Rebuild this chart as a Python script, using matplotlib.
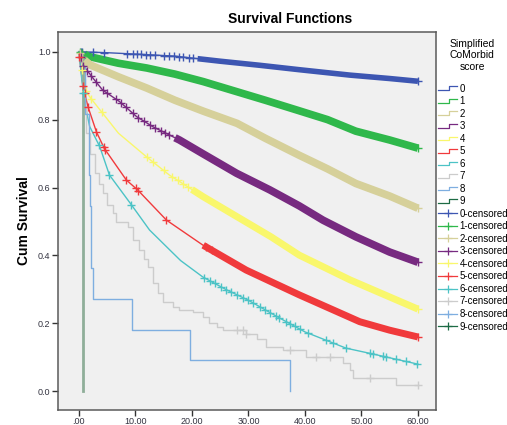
import matplotlib
matplotlib.use("Agg")
import matplotlib.pyplot as plt
from matplotlib.lines import Line2D
from matplotlib.legend_handler import HandlerBase
import numpy as np

plt.rcParams["font.family"] = ["Liberation Sans", "DejaVu Sans"]

groups = ["0", "1", "2", "3", "4", "5", "6", "7", "8", "9"]
colors = ["#3d56b2", "#2fb84b", "#d6d09a", "#772a80", "#f9f76c",
          "#f03a3c", "#4cc3c6", "#cccccc", "#7eaee0", "#8fae99"]
legend_colors = ["#3d56b2", "#2fb84b", "#d6d09a", "#772a80", "#f9f76c",
                 "#f03a3c", "#4cc3c6", "#cccccc", "#7eaee0", "#1d6b45"]

# survival curves (months, cum survival)
t0 = [0, 5, 10, 17, 25, 32, 39, 48, 55, 60]
s0 = [1.0, 0.997, 0.993, 0.987, 0.972, 0.960, 0.947, 0.931, 0.921, 0.913]
t1 = [0, 2, 7, 12, 17, 22, 28, 33, 39, 44, 49, 55, 60]
s1 = [1.0, 0.985, 0.966, 0.952, 0.934, 0.912, 0.882, 0.857, 0.826, 0.800, 0.766, 0.740, 0.716]
t2 = [0, 1, 2, 7, 12, 17, 22, 28, 33, 39, 44, 49, 55, 60]
s2 = [1.0, 0.975, 0.961, 0.926, 0.893, 0.857, 0.825, 0.789, 0.745, 0.695, 0.655, 0.612, 0.575, 0.539]
t3 = [0, 0.7, 2.5, 4.2, 7.2, 10.2, 13.1, 17.8, 21.9, 27.9, 33.8, 39, 43.2, 49, 55, 60]
s3 = [1.0, 0.961, 0.922, 0.887, 0.853, 0.809, 0.779, 0.740, 0.700, 0.642, 0.593, 0.546, 0.504, 0.455, 0.410, 0.380]
t4 = [0, 1, 2, 4, 7, 12, 16, 22, 28, 34, 39, 48, 54, 60]
s4 = [1.0, 0.89, 0.865, 0.823, 0.760, 0.690, 0.637, 0.573, 0.514, 0.455, 0.401, 0.328, 0.285, 0.242]
t5 = [0, 0.7, 1.6, 3.1, 4.5, 8.4, 10.4, 15.5, 21.9, 29.6, 39, 49.7, 55, 60]
s5 = [1.0, 0.90, 0.838, 0.764, 0.715, 0.622, 0.593, 0.504, 0.431, 0.357, 0.284, 0.205, 0.180, 0.160]
t6 = [0, 0.5, 1, 1.9, 3.7, 5.4, 9.3, 12.5, 16.1, 18, 21.9, 26, 30, 35.5, 40, 47.3, 52, 56, 60]
s6 = [1.0, 0.92, 0.85, 0.78, 0.72, 0.637, 0.549, 0.475, 0.416, 0.385, 0.337, 0.300, 0.268, 0.216, 0.175, 0.127, 0.110, 0.095, 0.080]
t7 = [0, 0.5, 1.0, 1.3, 1.9, 2.8, 3.5, 4.2, 5.0, 6.0, 6.6, 8.7, 9.6, 10.7, 11.5, 12.2, 13.1, 14.0,
      14.9, 16.6, 17.8, 20.2, 22.0, 23.1, 24.5, 25.5, 29.6, 31.5, 33.2, 36.1, 40.2, 46.7, 47.9,
      48.5, 56.2, 60]
s7 = [1.0, 0.92, 0.84, 0.76, 0.70, 0.642, 0.61, 0.583, 0.55, 0.524, 0.50, 0.485, 0.446, 0.416,
      0.39, 0.367, 0.318, 0.289, 0.264, 0.249, 0.24, 0.234, 0.22, 0.20, 0.19, 0.18, 0.17, 0.155,
      0.131, 0.122, 0.10, 0.082, 0.063, 0.039, 0.019, 0.019]
t8 = [0, 1.1, 1.7, 2.0, 2.2, 2.5, 9.45, 19.6, 37.3]
s8 = [1.0, 0.818, 0.636, 0.545, 0.364, 0.273, 0.182, 0.091, 0.0]
t9 = [0, 0.65]
s9 = [1.0, 0.0]

times = [t0, t1, t2, t3, t4, t5, t6, t7, t8, t9]
survs = [s0, s1, s2, s3, s4, s5, s6, s7, s8, s9]
stepped = [False] * 7 + [True] * 3

# censored times (sparse marks) and start of the dense band of censor marks
cens = [
    [0.3, 0.6, 2.5, 4.5, 8.5, 9.5, 10.3, 11.0, 11.8, 12.5, 13.5, 15.0, 16.0, 16.8, 17.8, 18.5, 19.5, 20.2, 60],
    [0.2, 0.6, 60],
    [0.2, 0.6, 60],
    [0.3, 0.8, 1.5, 2.2, 3.0, 4.2, 5.0, 6.5, 7.5, 8.3, 9.5, 10.5, 11.5, 12.5, 13.5, 14.5, 15.3, 16.0, 60],
    [0.5, 1.2, 2.2, 4.0, 12.0, 13.2, 15.0, 16.5, 17.5, 18.5, 19.3, 60],
    [0.1, 0.7, 1.0, 1.6, 3.1, 4.4, 4.7, 8.4, 10.1, 10.5, 15.5, 22.5, 23.5, 60],
    [0.8, 3.5, 5.4, 9.3, 22.2, 23.2, 24.0, 25.2, 26.1, 27.0, 27.9, 29.0, 29.9, 30.8, 32.0, 32.9,
     33.8, 34.9, 35.5, 36.7, 37.3, 38.2, 39.1, 40.5, 43.8, 45.0, 47.3, 51.5, 52.0, 53.8, 54.4,
     56.2, 57.9, 59.9],
    [27.9, 29.0, 29.6, 37.3, 42.0, 44.5, 51.5, 60],
    [],
    [],
]
band_start = [21, 1, 1, 17, 20, 22, None, None, None, None]
band_width = [4, 5.5, 5.5, 5.5, 5, 5, 0, 0, 0, 0]


def value_at(tc, t, s, step):
    tc = np.asarray(tc, dtype=float)
    if step:
        idx = np.searchsorted(t, tc, side="right") - 1
        return np.asarray(s)[idx]
    return np.interp(tc, t, s)


fig = plt.figure(figsize=(5.07, 4.25), dpi=100)
ax = fig.add_axes([58 / 507, 15 / 425, 378 / 507, 378 / 425])
ax.set_facecolor("#f0f0f0")

for i in range(len(groups)):
    t = np.array(times[i], dtype=float)
    s = np.array(survs[i], dtype=float)
    c = colors[i]
    lw = 2.0 if i == 9 else 1.0
    ax.plot(t, s, color=c, lw=lw, drawstyle="steps-post" if stepped[i] else "default", zorder=2)
    if band_start[i] is not None:
        b = band_start[i]
        keep = t > b
        bt = np.concatenate([[b], t[keep]])
        bs = np.concatenate([[np.interp(b, t, s)], s[keep]])
        ax.plot(bt, bs, color=c, lw=band_width[i], solid_capstyle="butt", zorder=3)
    if len(cens[i]):
        ax.plot(cens[i], value_at(cens[i], t, s, stepped[i]), ls="none", marker="+",
                ms=6, mew=1.0, color=c, zorder=4)

ax.set_xlim(-3.7, 63.2)
ax.set_ylim(-0.055, 1.058)
ax.set_xticks([0, 10, 20, 30, 40, 50, 60])
ax.set_xticklabels([".00", "10.00", "20.00", "30.00", "40.00", "50.00", "60.00"])
ax.set_yticks([0, 0.2, 0.4, 0.6, 0.8, 1.0])
ax.set_yticklabels(["0.0", "0.2", "0.4", "0.6", "0.8", "1.0"])
ax.tick_params(labelsize=6.5, labelcolor="#333340", length=4.5, width=1, color="#333333", pad=1)
ax.tick_params(axis="x", pad=0.3)
for sp in ax.spines.values():
    sp.set_color("#5a5a5a")
    sp.set_linewidth(1.1)
ax.set_ylabel("Cum Survival", fontsize=10, fontweight="bold", labelpad=5)
fig.text(290 / 507, 1 - 19 / 425, "Survival Functions", fontsize=10, fontweight="bold",
         ha="center", va="center")
fig.text(472 / 507, 1 - 55.5 / 425, "Simplified\nCoMorbid\nscore", fontsize=7.5,
         ha="center", va="center", linespacing=1.2)


class StepHandler(HandlerBase):
    def create_artists(self, legend, orig_handle, xdescent, ydescent, width, height, fontsize, trans):
        x0, y0 = -xdescent, -ydescent
        xm = x0 + 0.55 * width
        line = Line2D([x0, xm, xm, x0 + width],
                      [y0 + 0.2 * height, y0 + 0.2 * height, y0 + 0.75 * height, y0 + 0.75 * height],
                      color=orig_handle.get_color(), lw=orig_handle.get_linewidth())
        line.set_transform(trans)
        return [line]


step_handles = [Line2D([], [], color=c, lw=0.9) for c in legend_colors]
cens_handles = [Line2D([], [], color=c, lw=0.9, marker="+", ms=6, mew=0.9) for c in legend_colors]
labels = groups + [g + "-censored" for g in groups]
fig.legend(step_handles + cens_handles, labels, loc="upper left",
           bbox_to_anchor=(438 / 507, 1 - 83.5 / 425), frameon=False, fontsize=7,
           numpoints=1, handlelength=2.0, handletextpad=0.2, labelspacing=0.26, borderpad=0,
           borderaxespad=0, handler_map={h: StepHandler() for h in step_handles})

fig.savefig("out.png", dpi=100)
